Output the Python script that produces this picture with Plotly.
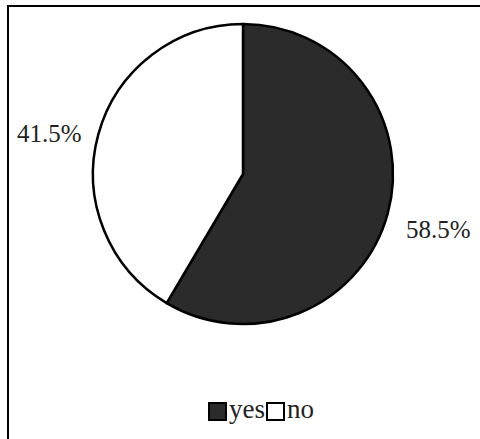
import plotly.graph_objects as go

# Survey answer shares (percent)
categories = ["yes", "no"]
shares = [58.5, 41.5]
slice_colors = ["#2b2b2b", "#ffffff"]

W, H = 480, 439
FONT = "Liberation Serif, Times New Roman, serif"


def px(x):
    return x / W


def py(y):
    return 1 - y / H


# circular pie: centre and radius in pixels
cx, cy, r = 243, 174, 150

fig = go.Figure(
    go.Pie(
        labels=categories,
        values=shares,
        sort=False,
        direction="clockwise",
        rotation=0,
        marker=dict(colors=slice_colors, line=dict(color="#000000", width=2.5)),
        textinfo="none",
        hoverinfo="label+percent",
        showlegend=False,
        domain=dict(x=[px(cx - r), px(cx + r)], y=[py(cy + r), py(cy - r)]),
    )
)

# percentage labels outside the slices
label_pos = {"yes": (438, 229), "no": (49, 134)}
annotations = []
for cat, val in zip(categories, shares):
    x, y = label_pos[cat]
    annotations.append(
        dict(
            x=px(x), y=py(y), xref="paper", yref="paper",
            text=f"{val}%", showarrow=False,
            xanchor="center", yanchor="middle",
            font=dict(family=FONT, size=25, color="#222222"),
        )
    )

# outer frame around the chart
shapes = [
    dict(type="rect", xref="paper", yref="paper",
         x0=px(8), x1=px(W + 10), y0=py(H + 10), y1=py(6),
         line=dict(color="#000000", width=2), fillcolor="rgba(0,0,0,0)"),
]

# legend: filled squares followed by the category names
legend_x = {"yes": 208, "no": 266}
for cat, col in zip(categories, slice_colors):
    x0 = legend_x[cat]
    shapes.append(
        dict(type="rect", xref="paper", yref="paper",
             x0=px(x0 + 1), x1=px(x0 + 18), y0=py(420), y1=py(403),
             line=dict(color="#000000", width=2), fillcolor=col)
    )
    annotations.append(
        dict(
            x=px(x0 + 19), y=py(409), xref="paper", yref="paper",
            text=cat, showarrow=False,
            xanchor="left", yanchor="middle",
            font=dict(family=FONT, size=27, color="#222222"),
        )
    )

fig.update_layout(
    width=W, height=H,
    margin=dict(l=0, r=0, t=0, b=0),
    paper_bgcolor="#ffffff",
    plot_bgcolor="#ffffff",
    font=dict(family=FONT),
    shapes=shapes,
    annotations=annotations,
)

fig.write_html("out.html")
